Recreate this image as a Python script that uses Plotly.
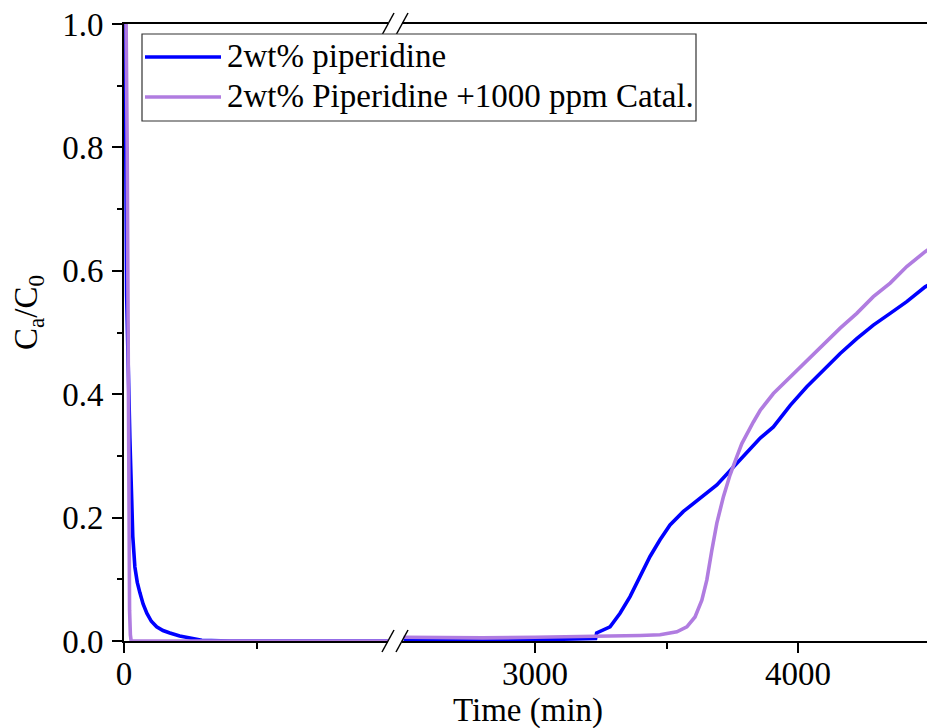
import plotly.graph_objects as go

# ---------------- data ----------------
series_names = ["2wt% piperidine", "2wt% Piperidine +1000 ppm Catal."]
series_colors = ["#0000FF", "#B07CE0"]

# early period (left axis segment, 0-1000 min)
blue_t_early = [0, 4, 6, 10, 16, 22, 29, 33, 41, 50, 60, 72, 86, 103, 123, 147, 173, 210, 249, 293, 400, 600, 800, 1000]
blue_v_early = [1.0, 0.92, 0.85, 0.56, 0.42, 0.33, 0.23, 0.17, 0.12, 0.095, 0.078, 0.06, 0.045, 0.032, 0.023, 0.017,
                0.013, 0.008, 0.005, 0.001, 0.0, 0.0, 0.0, 0.0]
purple_t_early = [2, 8, 12, 15, 17, 19, 21, 24, 27, 200, 500, 800, 1000]
purple_v_early = [1.0, 1.0, 0.8, 0.55, 0.3, 0.15, 0.05, 0.01, 0.0, 0.0, 0.0, 0.0, 0.0]

# late period (right axis segment, 2500-4500 min)
blue_t_late = [2500, 3000, 3230, 3234, 3285, 3323, 3361, 3399, 3437, 3475, 3513, 3564, 3627, 3691, 3754, 3817,
               3856, 3906, 3970, 4033, 4096, 4160, 4223, 4286, 4350, 4413, 4483, 4500]
blue_v_late = [0.002, 0.002, 0.004, 0.013, 0.023, 0.045, 0.072, 0.104, 0.137, 0.164, 0.188, 0.21, 0.231, 0.253,
               0.282, 0.312, 0.329, 0.347, 0.382, 0.412, 0.439, 0.466, 0.490, 0.512, 0.531, 0.550, 0.574, 0.578]
purple_t_late = [2500, 2800, 3000, 3200, 3400, 3475, 3539, 3577, 3608, 3634, 3653, 3672, 3691, 3716, 3741, 3767,
                 3786, 3830, 3856, 3906, 3970, 4033, 4096, 4160, 4223, 4286, 4350, 4413, 4483, 4500]
purple_v_late = [0.006, 0.005, 0.006, 0.007, 0.009, 0.01, 0.015, 0.023, 0.039, 0.066, 0.099, 0.147, 0.191, 0.234,
                 0.269, 0.299, 0.320, 0.355, 0.374, 0.401, 0.428, 0.453, 0.480, 0.507, 0.531, 0.558, 0.580, 0.607,
                 0.631, 0.636]

y_ticks = [0.0, 0.2, 0.4, 0.6, 0.8, 1.0]
x_ticks_left = [0]
x_minor_left = [500]
x_ticks_right = [3000, 4000]
x_minor_right = [3500]

# ---------------- layout geometry ----------------
W, H = 927, 728
L, R, T, B = 124, 0, 24, 87
PW = W - L - R
PH = H - T - B


def fx(px):
    return (px - L) / PW


def fy(py):
    return (H - B - py) / PH


FONT = "Liberation Serif"
FS = 33
fig = go.Figure()

lw = 3.6
fig.add_trace(go.Scatter(x=blue_t_early, y=blue_v_early, mode="lines", name=series_names[0],
                         line=dict(color=series_colors[0], width=lw), xaxis="x", yaxis="y", showlegend=False))
fig.add_trace(go.Scatter(x=blue_t_late, y=blue_v_late, mode="lines", name=series_names[0],
                         line=dict(color=series_colors[0], width=lw), xaxis="x2", yaxis="y", showlegend=False))
fig.add_trace(go.Scatter(x=purple_t_early, y=purple_v_early, mode="lines", name=series_names[1],
                         line=dict(color=series_colors[1], width=lw), xaxis="x", yaxis="y", showlegend=False))
fig.add_trace(go.Scatter(x=purple_t_late, y=purple_v_late, mode="lines", name=series_names[1],
                         line=dict(color=series_colors[1], width=lw), xaxis="x2", yaxis="y", showlegend=False))

axis_common = dict(showline=True, linecolor="black", linewidth=2, ticks="outside", ticklen=10, tickwidth=2,
                   tickcolor="black", showgrid=False, zeroline=False,
                   tickfont=dict(family=FONT, size=FS, color="black"))

fig.update_layout(
    width=W, height=H,
    margin=dict(l=L, r=R, t=T, b=B),
    paper_bgcolor="white", plot_bgcolor="white",
    showlegend=False,
    xaxis=dict(domain=[0, fx(388)], range=[0, 995], tickmode="array", tickvals=x_ticks_left,
               mirror=True, anchor="y", ticklabelstandoff=-8,
               minor=dict(tickmode="array", tickvals=x_minor_left, ticks="outside", ticklen=6, tickwidth=2,
                          tickcolor="black"),
               **axis_common),
    xaxis2=dict(domain=[fx(402), 1], range=[2494, 4490], tickmode="array", tickvals=x_ticks_right,
                mirror=True, anchor="y", ticklabelstandoff=-8,
                minor=dict(tickmode="array", tickvals=x_minor_right, ticks="outside", ticklen=6, tickwidth=2,
                           tickcolor="black"),
                **axis_common),
    yaxis=dict(domain=[0, 1], range=[0, 1], tickmode="array", tickvals=y_ticks, tickformat=".1f",
               anchor="x", ticklabelstandoff=2,
               minor=dict(dtick=0.1, ticks="outside", ticklen=5, tickwidth=2, tickcolor="black"),
               **axis_common),
)

shapes = []
# axis break marks (bottom and top)
for yc in (641, 24):
    for x0 in (382, 396):
        shapes.append(dict(type="line", xref="paper", yref="paper", x0=fx(x0), y0=fy(yc + 11),
                           x1=fx(x0 + 12), y1=fy(yc - 11), line=dict(color="black", width=1.5)))

# legend box
shapes.append(dict(type="rect", xref="paper", yref="paper", x0=fx(142), x1=fx(696), y0=fy(121), y1=fy(34),
                   line=dict(color="#333333", width=1.2), fillcolor="white", layer="above"))
legend_rows = [57, 97]
annotations = []
for name, color, yrow in zip(series_names, series_colors, legend_rows):
    shapes.append(dict(type="line", xref="paper", yref="paper", x0=fx(145), x1=fx(221), y0=fy(yrow), y1=fy(yrow),
                       line=dict(color=color, width=3.5), layer="above"))
    annotations.append(dict(text=name, xref="paper", yref="paper", x=fx(225), y=fy(yrow - 1), xanchor="left",
                            yanchor="middle", showarrow=False, font=dict(family=FONT, size=FS, color="black")))

annotations.append(dict(text="Time (min)", xref="paper", yref="paper", x=fx(528), y=fy(710), xanchor="center",
                        yanchor="middle", showarrow=False, font=dict(family=FONT, size=FS, color="black")))
annotations.append(dict(text="C<sub>a</sub>/C<sub>0</sub>", xref="paper", yref="paper", x=fx(28), y=fy(313),
                        xanchor="center", yanchor="middle", textangle=-90, showarrow=False,
                        font=dict(family=FONT, size=FS, color="black")))

fig.update_layout(shapes=shapes, annotations=annotations)
fig.write_html("out.html")
